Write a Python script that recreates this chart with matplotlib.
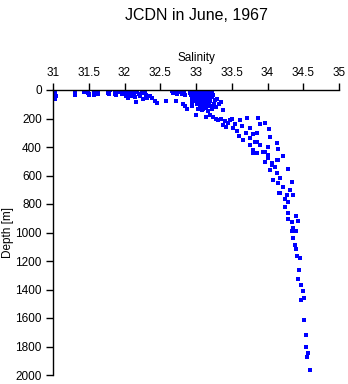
'''
    plot.py - JCDN salinity profile, June 1967
'''

import matplotlib
matplotlib.use( 'Agg' )
import matplotlib.pyplot as plt

# salinity / depth samples
# surface layer (0 - 150 m)
surf_sal = [ 31.03, 31.03, 31.03, 31.03, 31.04,
             31.31, 31.31, 31.31, 31.31, 31.43, 31.43,
             31.49, 31.49, 31.50, 31.50, 31.57, 31.57, 31.58,
             31.63, 31.63, 31.63, 31.77, 31.77, 31.78, 31.80,
             31.87, 31.87, 31.88, 31.90, 31.92, 31.93, 31.95, 31.96, 31.98,
             32.00, 32.00, 32.02, 32.03, 32.05, 32.05, 32.07, 32.08, 32.10,
             32.10, 32.12, 32.13, 32.15, 32.15, 32.16, 32.18, 32.20, 32.22,
             32.24, 32.26, 32.28, 32.31, 32.30, 32.35, 32.43, 32.45, 32.38,
             32.58, 32.72, 32.66, 32.68, 32.70, 32.73, 32.75, 32.78, 32.80,
             32.83, 32.85, 32.82, 32.84, 32.87,
             31.98, 32.01, 32.04, 32.06, 32.09, 32.11, 32.14, 31.94, 31.97 ]
surf_dep = [ 20, 35, 50, 65, 45,
             5, 15, 25, 35, 3, 12,
             5, 20, 30, 38, 12, 22, 35,
             3, 15, 28, 8, 18, 30, 3,
             12, 25, 38, 5, 15, 3, 8, 20, 5,
             12, 30, 45, 3, 18, 55, 8, 30, 5,
             40, 15, 25, 3, 50, 84, 10, 30, 45,
             20, 60, 5, 56, 35, 40, 77, 91, 55,
             77, 77, 5, 20, 8, 30, 3, 15, 25,
             8, 35, 98, 115, 130,
             25, 22, 10, 35, 20, 28, 12, 12, 30 ]

# dense cluster near 33 psu
core_sal = [ 32.92, 32.92, 32.93, 32.95, 32.95, 32.97, 32.98, 33.00, 33.00,
             33.00, 33.02, 33.03, 33.05, 33.05, 33.07, 33.08, 33.10, 33.10,
             33.12, 33.13, 33.15, 33.16, 33.18, 33.18, 33.20, 33.22, 33.22,
             33.24, 32.94, 33.06, 33.10, 33.15,
             32.96, 32.99, 33.01, 33.04, 33.06, 33.09, 33.11, 33.14, 33.17,
             33.19, 33.21, 33.23, 32.94, 32.97, 33.03, 33.08, 33.13, 33.19,
             33.01, 33.04, 33.09, 33.12, 33.16, 33.21,
             32.95, 32.95, 33.00, 33.02, 33.03, 33.05, 33.07, 33.09, 33.10,
             33.12, 33.14, 33.15, 33.17, 33.20, 33.20, 33.22, 33.25, 33.27,
             33.28, 33.30, 33.32, 33.35, 33.38,
             33.04, 33.08, 33.12, 33.18, 33.24, 33.10, 33.16, 33.05 ]
core_dep = [ 5, 20, 35, 10, 50, 25, 5, 15, 40,
             60, 5, 28, 12, 50, 35, 3, 20, 45,
             8, 30, 55, 15, 3, 40, 22, 10, 50,
             35, 65, 70, 65, 75,
             40, 30, 20, 42, 22, 10, 35, 42, 25,
             8, 32, 15, 45, 58, 55, 55, 20, 55,
             8, 18, 30, 48, 5, 40,
             90, 110, 80, 100, 130, 90, 115, 140, 85,
             105, 125, 95, 150, 80, 115, 135, 95, 70,
             120, 60, 100, 85, 140,
             75, 95, 70, 100, 110, 130, 110, 110 ]

# halocline and deep water
deep_sal = [ 33.00, 33.14, 33.24, 33.28, 33.31, 33.20, 33.35, 33.40, 33.45,
             33.48, 33.38, 33.42, 33.50, 33.55, 33.52, 33.58, 33.62, 33.65,
             33.70, 33.71, 33.60, 33.75, 33.76, 33.80, 33.87, 33.90, 33.97,
             34.02, 34.03, 33.85, 33.85, 33.90, 34.13, 33.66, 33.76, 33.83,
             34.01, 33.97, 33.80, 33.80, 33.85, 34.15, 33.94, 34.00, 34.22,
             34.01, 34.13, 34.15, 33.97, 34.06, 34.06, 34.10, 34.03, 34.29,
             34.13, 34.17, 34.08, 34.15, 34.34, 34.22, 34.31, 34.17, 34.27,
             34.36, 34.16, 34.24, 34.29, 34.24, 34.29, 34.40, 34.29, 34.43,
             34.34, 34.36, 34.40, 34.34, 34.36, 34.38, 34.40, 34.41, 34.45,
             34.44, 34.43, 34.47, 34.50, 34.51, 34.47, 34.51, 34.54, 34.54,
             34.57, 34.55, 34.60 ]
deep_dep = [ 175, 190, 190, 200, 210, 178, 200, 215, 230,
             210, 245, 260, 200, 240, 270, 290, 210, 255,
             300, 196, 320, 270, 337, 310, 196, 239, 232,
             274, 330, 302, 365, 386, 372, 351, 386, 365,
             400, 435, 421, 442, 442, 414, 435, 456, 463,
             477, 491, 491, 505, 512, 526, 540, 561, 554,
             582, 617, 632, 653, 646, 681, 702, 723, 737,
             737, 723, 765, 786, 821, 863, 884, 905, 919,
             926, 968, 989, 989, 1039, 1088, 1116, 1165, 1179,
             1263, 1326, 1368, 1410, 1460, 1474, 1614, 1719, 1804,
             1846, 1874, 1965 ]

x_ticks = [ 31, 31.5, 32, 32.5, 33, 33.5, 34, 34.5, 35 ]
x_tick_labels = [ '31', '31.5', '32', '32.5', '33', '33.5', '34', '34.5', '35' ]
y_ticks = list( range( 0, 2001, 200 ) )

plt.rcParams['font.family'] = [ 'Liberation Sans', 'DejaVu Sans' ]

fig = plt.figure( figsize = ( 3.48, 3.84 ), dpi = 100 )
ax = fig.add_axes( [ 53 / 348, 1 - 375 / 384, 286 / 348, 285 / 384 ] )

# plot all samples as small blue squares
for s, d in ( ( surf_sal, surf_dep ), ( core_sal, core_dep ), ( deep_sal, deep_dep ) ):
    ax.plot( s, d, 's', color = '#0000ff', markersize = 2.6, markeredgewidth = 0 )

# axes: salinity on top, depth increasing downward
ax.set_xlim( 31, 35 )
ax.set_ylim( 2000, 0 )
ax.xaxis.tick_top()
ax.xaxis.set_label_position( 'top' )
ax.set_xticks( x_ticks )
ax.set_xticklabels( x_tick_labels )
ax.set_yticks( y_ticks )
ax.set_xlabel( 'Salinity', fontsize = 8.5, labelpad = 4 )
ax.set_ylabel( 'Depth [m]', fontsize = 8.5 )
ax.yaxis.set_label_coords( -39 / 286, 0.5 )
ax.tick_params( direction = 'out', length = 5, width = 1, labelsize = 8.5, pad = 3 )

ax.spines['right'].set_visible( False )
ax.spines['bottom'].set_visible( False )
ax.spines['top'].set_linewidth( 1 )
ax.spines['left'].set_linewidth( 1 )

fig.text( 196 / 348, 1 - 15 / 384, 'JCDN in June, 1967', ha = 'center', va = 'center', fontsize = 11.5 )

fig.savefig( 'out.png', dpi = 100 )
